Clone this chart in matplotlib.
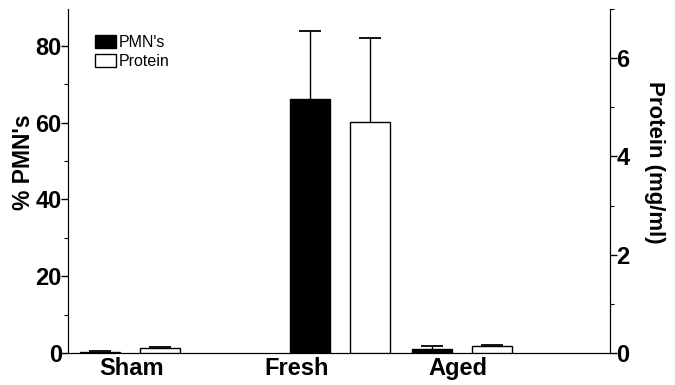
import matplotlib
matplotlib.use("Agg")
import matplotlib.pyplot as plt
import numpy as np
from matplotlib.ticker import MultipleLocator
from matplotlib import font_manager

categories = ["Sham", "Fresh", "Aged"]
pmn_values = [0.3, 66.2, 1.0]
pmn_errors = [0.2, 17.7, 0.7]
protein_values = [0.11, 4.70, 0.15]
protein_errors = [0.02, 1.71, 0.02]

names = {f.name for f in font_manager.fontManager.ttflist}
narrow = 'Liberation Sans Narrow' if 'Liberation Sans Narrow' in names else 'Liberation Sans'
plt.rcParams['font.family'] = ['Liberation Sans', 'DejaVu Sans']

fig = plt.figure(figsize=(6.75, 3.85), dpi=100)
ax = fig.add_axes([68/675, 1-353/385, 542/675, 344/385])
ax2 = ax.twinx()

centers = np.array([62, 272, 394])
label_pos = np.array([64, 229, 390])
offset = 30
width = 40

pmn_x = centers - offset
prot_x = centers + offset

def upper_err(a, x, v, e):
    top = np.array(v) + np.array(e)
    a.vlines(x, v, top, colors='black', linewidth=1, zorder=2)
    a.plot(x, top, linestyle='none', marker='_', markersize=16,
           markeredgewidth=1.3, color='black', zorder=2)

ax.bar(pmn_x, pmn_values, width=width, color='black', edgecolor='black',
       linewidth=1, label="PMN's", zorder=3)
upper_err(ax, pmn_x, pmn_values, pmn_errors)

ax2.bar(prot_x, protein_values, width=width, color='white', edgecolor='black',
        linewidth=1, label="Protein", zorder=3)
upper_err(ax2, prot_x, protein_values, protein_errors)

ax.set_xlim(0, 542)
ax.set_ylim(0, 89.6)
ax2.set_ylim(0, 7.0)

ax.set_xticks(label_pos)
ax.set_xticklabels(categories, fontsize=17, fontweight='bold', family=[narrow, 'DejaVu Sans'])
ax.tick_params(axis='x', length=0, pad=3)

ax.yaxis.set_major_locator(MultipleLocator(20))
ax.yaxis.set_minor_locator(MultipleLocator(10))
ax2.yaxis.set_major_locator(MultipleLocator(2))
ax2.yaxis.set_minor_locator(MultipleLocator(1))

for a in (ax, ax2):
    a.tick_params(axis='y', which='major', direction='out', length=5, width=1,
                  labelsize=17, pad=-0.5)
    a.tick_params(axis='y', which='minor', direction='out', length=3, width=0.8)
    for lab in a.get_yticklabels():
        lab.set_fontweight('bold')
        lab.set_family([narrow, 'DejaVu Sans'])
    a.spines['top'].set_visible(False)

ax.set_ylabel("% PMN's", fontsize=16.5, fontweight='bold', va='center')
ax.yaxis.set_label_coords(-0.083, 0.555)
ax2.set_ylabel("Protein (mg/ml)", fontsize=16, fontweight='bold', rotation=270,
               va='center')
ax2.yaxis.set_label_coords(1.083, 0.555)

h1, l1 = ax.get_legend_handles_labels()
h2, l2 = ax2.get_legend_handles_labels()
leg = ax2.legend(h1 + h2, l1 + l2, loc='upper left',
                 bbox_to_anchor=(0.05, 0.925), frameon=False, fontsize=11.5,
                 handlelength=1.3, handleheight=0.9, handletextpad=0.15,
                 labelspacing=0.25, borderpad=0, borderaxespad=0)

fig.savefig("out.png", dpi=100)
